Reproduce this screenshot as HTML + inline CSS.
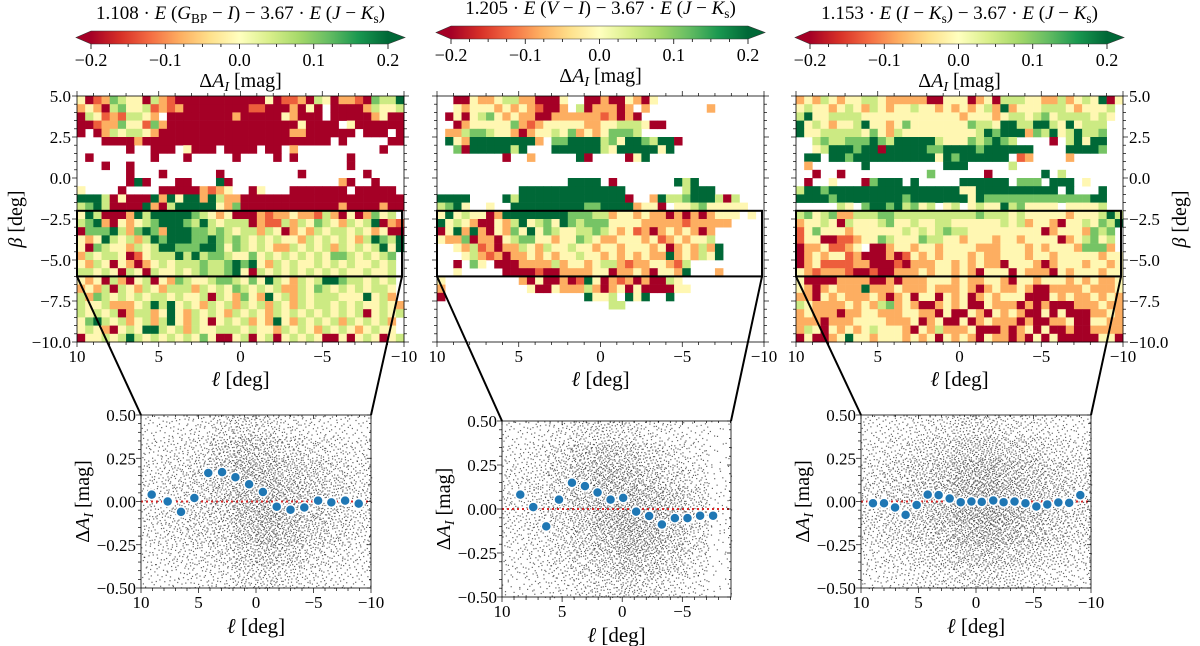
<!DOCTYPE html>
<html><head><meta charset="utf-8">
<style>
html,body{margin:0;padding:0;background:#fff;}
svg{display:block;}
svg text{font-family:"Liberation Serif","DejaVu Serif",serif;}
</style></head>
<body>
<svg id="fig" width="1200" height="646" viewBox="0 0 1200 646" xmlns="http://www.w3.org/2000/svg">
<defs>
<linearGradient id="rdylgn" x1="0" x2="1" y1="0" y2="0">
<stop offset="0" stop-color="#a50026"/><stop offset="0.1" stop-color="#d73027"/><stop offset="0.2" stop-color="#f46d43"/><stop offset="0.3" stop-color="#fdae61"/><stop offset="0.4" stop-color="#fee08b"/><stop offset="0.5" stop-color="#ffffbf"/><stop offset="0.6" stop-color="#d9ef8b"/><stop offset="0.7" stop-color="#a6d96a"/><stop offset="0.8" stop-color="#66bd63"/><stop offset="0.9" stop-color="#1a9850"/><stop offset="1" stop-color="#006837"/>
</linearGradient>
</defs>
</svg>
<script>
// ---------- data ----------
const codeLevels = {R:-0.2, r:-0.13, o:-0.08, y:-0.01, l:0.05, g:0.11, G:0.2};
const cbTicks = [-0.2, -0.1, 0.0, 0.1, 0.2];
const hmLonTicks = [10, 5, 0, -5, -10];
const hmLatTicks = [5, 2.5, 0, -2.5, -5, -7.5, -10];
const scYTicks = [0.5, 0.25, 0, -0.25, -0.5];
const scXTicks = [10, 5, 0, -5, -10];

const hm1Rows = [
"yRroglyyRlorRRRRRRRRRRRyRrroRlyRoorRgllGy",
"oyoRlgyylroroRRRRRRRRrrRRRoRyR.RRRRolyyl",
"Rlyrorllyo.RRRRRRRRoRRRRRyoRRR.RRRRRoyRR",
"RRroogyyrgoRRRRRRRRRRRRRRRRyRRRR.yRRRRRRR",
"R.RolyllyoRRRRRRRRRRRRRRRRooRRRRRR.RRR.RR",
"...RRRRoRRRRRRRRRRRRRRRRRRRRRRR.R.....RRR",
"......R..RRR.yRRR.RRRR.RR.o..........R...",
".R.......R...R.....R....R.R......R.......",
"...R..R..........................R.......",
"......R...R......R.........R.......R.....",
"......RGR...RR...GR.............oR..R....",
"y....R....RRRRRoroy..Ry...RRRRRRR.RRRRR",
"GGGlRyRRRGoGyGGoGlooRRRRRRRRRRRRRRRRRRRR",
"lgGlRRRRGoRlGGGGGyogRRRRRRRRRRRRoRRRRoRR",
"yGlRRRoGlGGGGGglyoyRRRorooyoorloRyRogyl",
"lgGoRyoylgGGGglGlylllRorrlolyglyolylGRor",
"RgggGlogGgoGGGgglglyllolyRoyolyllylyoyRR",
"yoyGlylolGgGGGggGglglylylyyolylylyolGglG",
"yRglyyolylGGgggGGgyglylyoolylylolylylGyG",
"olyllyRrylllGlGlgglyygylylylylygglylylg",
"yolyRyoRoylylllgllgGgGyolylyylylylyylyl",
"llylyRlyRlyylylgllgGyRlylylylylylyylyyl",
"yoyRloRylRyoglyylgglygyGlyolylGGgllylyl",
"oyolRlyolyolllolylyglylyloolyglylylylly",
"loglylylyllylyylRlyogyoGylolylllyyyGylo",
"lyyloooylGlGylyolylolylolyolyllylylyylyo",
"lylylRolloyGyolylyolylyolylylylylylRylyl",
"ygGlyloylolGyolyRylyloyoGyolylylolylylo",
"ylyoRylyGGlylolyylllylyyolylyolylyoylyy",
"RyylylGlylylylygyRRylRylRylylyRRyRylyRyl"];

const hm2Rows = [
"..RRyooyllooRRRy..RRoRRyoRy.............",
"..yoyyyoyoyorRRo.lRoooRo.o.......o......",
".RyRylgyoyooRRooooooroRoR...............",
"..RoyyyyygoroyyyyyooyylllyRR............",
".oolgglyyoRoyylygoyoygggl...............",
".GyoGGGGGGGGo.ggGGGGlgyGGglGGR..........",
"..gRGGGGGlG...GGGGGGlyGGGGGyG...........",
"........R..o.....GR....RyG..............",
"........................................",
"........................................",
"................GGGG.R.......GlG........",
"..........GGGGGGGGGGGGG.......lGGG......",
"GGGG....GlGGGGGGGGGGGGGR..oGllgGGGlRl...",
"lgGy..y..GGGGGGGGGggGGGGoyyR.yylgyyyyy..",
"yGylyyRoGGGGGGGGggglloyyoyooRoRoRoyyy.y.",
"GylyoRRyolGylgyGglgggyyyyooooorooooo....",
"RyGoGoRyogyGyglyyllglyoyroRoyoyoRo......",
"yoogRooRylggyyoyyglyooyyyoyroyoyyl......",
"..yolroRoolyolyylyyoyyoyyyoyRoyoloG.....",
"...yloroRooyoyoyylyyoyoyoyooGoyolyG.....",
"..R.gy.RRRooooloyyoyllorooyyorl.........",
"..y.....RRRRrRRooooyyRooyoRyyoG...o.....",
"y.........oRyRRoRrGyRoroRoRRly..........",
"o..........yRRyoooloRoyRyRRRRyy.........",
"R.................Gyyl.GyG..G...........",
".....................ll.................",
"........................................",
"........................................",
"........................................",
"........................................"];

const hm3Rows = [
"oyolyoyyllyoooooRRyyyRoyRlllyyooloylyGRy",
"ylyyoylyolyoyylyyoyoyoyloGoyyylllyoyyyl",
"lGyyllllyyyyyyyyyyyyoyyyoyllylgyllllyly",
"GylyoyylGyyoygyyyyyyygllyGGllGGlyGylll",
"GyylllllygyolyyyyyyyyylGgGGGoglGylGllg",
"..lgllgggGglGGGGGlyyyglgGgl....R.lGyGG",
"..ylGGGgGGRGGGGGggGGGGgGGGGGG....GGGGg",
".GG.GGgGGGGGGGGGGyGgGGGGGG.ro....o....",
".o......G.........GGG.....l...........",
"..R..R..........g......R......G.l......",
".R..y...RgGGG.G.....GGGGGG.ggg.GGG.y...",
"lGGgGGGGGGGGGGGGGGGGyyGGGGGGGGGG.G...G",
"GGGGgGGGGGGGGgGGGGGGGyGgggggggggggggGG",
".....ly.gGGgGlgyl.yl.ylyyGlgyyyy.yyyyl",
"lgylgoolllggllllllllllglllylyyyyyoyyylGl",
"oyylyRlyyylgyylyyllyyyyyylyloyyoRyylyglG",
"rygyyyoyyyyyylylylgllyyyyyyyyyRoyyyoglg",
"ryyRRrroyyglyyygllyyoyyyoyyoyyyyRoylgyl",
"Rooyrroy.RRoyyoyyoyyyyoooyyyoyoyyyogggo",
"RoyoyyroRRRoRryoyoyyyoyooyyyoyyoyyyyyoyy",
"RoyrrrrooRRRrRoooyyoyoyooRyyyoRoyyyoyyoy",
"yorooorRRrRRoooyoyyoyoRyyyRyoooRyoyyyoyy",
"yRRRRooooRRoRoooyyyoyooyyoRyyoyyyoyoyooy",
"yoRoyoooGoooyoooyoooyoRoyooyoRRooooyoooy",
"ooRyoyoooyoRoyRyyRyoyRoyoyyyRRRyoyooyoyo",
"lyooooyoyolgoyoRRoyoyRRyoooRoRoRRRoooyoo",
"oyoooRooyyoooyyooRyRRyoRyoyoRRyRyRRRooyo",
"oooRoooyyyyoooyRoyRRyRoyoooRoRRooyRRyyoo",
"olyRyoyoylyyyoRyoloooyRRRoRoyRyRRoRRoooo",
"RyRRoyGyyoyyyoyoyRyoyoRyooRoRyRyRRRRRyyR"];

// binned medians (blue points)
const sc1Lon = [9.07, 7.68, 6.52, 5.36, 4.15, 2.95, 1.79, 0.6, -0.6, -1.8, -3.0, -4.2, -5.4, -6.55, -7.75, -8.93];
const sc1Val = [0.04, 0.0, -0.06, 0.02, 0.165, 0.17, 0.14, 0.10, 0.055, -0.03, -0.048, -0.035, 0.005, -0.005, 0.005, -0.012];
const sc2Lon = [8.48, 7.4, 6.32, 5.26, 4.18, 3.1, 2.05, 0.97, -0.08, -1.16, -2.24, -3.3, -4.38, -5.43, -6.48, -7.56];
const sc2Val = [0.082, 0.011, -0.099, 0.053, 0.149, 0.13, 0.094, 0.053, 0.063, -0.015, -0.04, -0.088, -0.052, -0.052, -0.038, -0.038];
const sc3Lon = [8.96, 8.0, 7.04, 6.12, 5.16, 4.2, 3.25, 2.29, 1.33, 0.4, -0.5, -1.5, -2.4, -3.35, -4.3, -5.25, -6.2, -7.16, -8.1, -9.07];
const sc3Val = [-0.01, -0.01, -0.035, -0.077, -0.02, 0.04, 0.037, 0.017, -0.004, 0.0, -0.002, 0.006, -0.004, 0.0, -0.01, -0.029, -0.017, -0.006, -0.008, 0.037];

// star density per cell (rows: dA from +0.5 down to -0.5; cols: l from 10 to -10)
const dens1 = [
[20,24,30,50,60,50,36,28,24,20],
[28,36,44,70,90,80,60,50,40,30],
[36,44,60,80,110,100,80,70,56,40],
[40,50,60,80,100,110,90,80,60,44],
[40,50,60,70,100,120,100,80,60,44],
[36,44,56,60,90,110,90,70,56,40],
[28,36,40,50,70,80,70,50,40,30],
[20,24,30,36,50,56,44,36,28,20]];
const dens2 = [
[20,24,36,50,56,50,36,28,20,8],
[28,36,56,80,90,80,60,44,28,10],
[36,44,64,90,110,100,80,60,40,12],
[40,50,64,90,110,120,100,84,56,16],
[36,44,60,80,110,130,116,90,60,16],
[28,36,50,70,90,116,104,80,50,12],
[24,30,44,56,70,90,80,60,36,10],
[16,20,30,40,50,60,50,36,24,8]];
const dens3 = [
[24,30,36,44,56,56,44,36,30,24],
[32,40,50,64,80,84,70,60,44,36],
[44,56,70,84,110,116,96,80,64,50],
[50,60,76,90,120,130,110,90,70,56],
[50,60,76,96,124,136,116,90,70,56],
[44,56,68,80,104,116,100,80,64,50],
[32,40,52,64,76,84,70,60,48,36],
[24,28,36,44,52,56,48,40,32,24]];

// ---------- geometry ----------
const panels = [
 {id:1, rows:hm1Rows, hx:77, hw:327, hy:96, hh:246, cbY:31, title:"t1",
  sx:141, sw:230, sy:415, sh:173, sLonMax:10, sLonMin:-10, lon:sc1Lon, val:sc1Val, dens:dens1, latLabels:"left"},
 {id:2, rows:hm2Rows, hx:437, hw:327, hy:96, hh:246, cbY:26, title:"t2",
  sx:502, sw:229, sy:421, sh:176, sLonMax:10, sLonMin:-9.05, lon:sc2Lon, val:sc2Val, dens:dens2, latLabels:"none"},
 {id:3, rows:hm3Rows, hx:796, hw:327, hy:96, hh:246, cbY:31, title:"t3",
  sx:861, sw:230, sy:415, sh:173, sLonMax:10, sLonMin:-10, lon:sc3Lon, val:sc3Val, dens:dens3, latLabels:"right"}
];

const NS = "http://www.w3.org/2000/svg";
const svg = document.getElementById("fig");
const SERIF = '"Liberation Serif", "DejaVu Serif", serif';
function mk(tag, attrs, parent){
  const e = document.createElementNS(NS, tag);
  for (const k in attrs) e.setAttribute(k, attrs[k]);
  if (tag === "text") e.setAttribute("font-family", SERIF);
  (parent || svg).appendChild(e);
  return e;
}
const stops = ["#a50026","#d73027","#f46d43","#fdae61","#fee08b","#ffffbf","#d9ef8b","#a6d96a","#66bd63","#1a9850","#006837"];
function hex2rgb(h){return [parseInt(h.substr(1,2),16),parseInt(h.substr(3,2),16),parseInt(h.substr(5,2),16)];}
function cmap(v){
  let t = (v + 0.2) / 0.4; t = Math.max(0, Math.min(1, t));
  const p = t * 10, i = Math.min(9, Math.floor(p)), f = p - i;
  const a = hex2rgb(stops[i]), b = hex2rgb(stops[i+1]);
  return "rgb(" + a.map((c,k)=>Math.round(c + (b[k]-c)*f)).join(",") + ")";
}
function halton(i, b){ let f = 1, r = 0; while (i > 0){ f /= b; r += f * (i % b); i = Math.floor(i / b);} return r; }
function fmt(v, d){ const s = Math.abs(v).toFixed(d); return (v < 0 ? "\u2212" : "") + s; }

const titles = {
 t1: [["1.108 · ",""],["E","i"],[" (",""],["G","i"],["BP","sub"],[" − ",""],["I","i"],[") − 3.67 · ",""],["E","i"],[" (",""],["J","i"],[" − ",""],["K","i"],["s","sub"],[")",""]],
 t2: [["1.205 · ",""],["E","i"],[" (",""],["V","i"],[" − ",""],["I","i"],[") − 3.67 · ",""],["E","i"],[" (",""],["J","i"],[" − ",""],["K","i"],["s","sub"],[")",""]],
 t3: [["1.153 · ",""],["E","i"],[" (",""],["I","i"],[" − ",""],["K","i"],["s","sub"],[") − 3.67 · ",""],["E","i"],[" (",""],["J","i"],[" − ",""],["K","i"],["s","sub"],[")",""]]
};
function richText(parts, x, y, size, parent){
  const t = mk("text", {x:x, y:y, "font-size":size, "text-anchor":"middle", fill:"#000"}, parent);
  parts.forEach(p=>{
    const s = document.createElementNS(NS, "tspan");
    s.textContent = p[0];
    if (p[1] === "i") s.setAttribute("font-style", "italic");
    if (p[1] === "sub"){ s.setAttribute("font-size", size*0.7); s.setAttribute("dy", "4"); }
    t.appendChild(s);
    if (p[1] === "sub"){ const back = document.createElementNS(NS,"tspan"); back.setAttribute("dy","-4"); back.textContent = "\u200b"; t.appendChild(back); }
  });
  return t;
}
function deltaLabel(x, y, size, rot, parent){
  const g = mk("g", {transform: "translate(" + x + "," + y + ")" + (rot ? " rotate(-90)" : "")}, parent);
  const t = mk("text", {x:0, y:0, "font-size":size, "text-anchor":"middle"}, g);
  const a0 = document.createElementNS(NS,"tspan"); a0.textContent = "Δ"; t.appendChild(a0);
  const a = document.createElementNS(NS,"tspan"); a.textContent = "A"; a.setAttribute("font-style","italic"); t.appendChild(a);
  const b = document.createElementNS(NS,"tspan"); b.textContent = "I"; b.setAttribute("font-style","italic"); b.setAttribute("font-size", size*0.7); b.setAttribute("dy","4"); t.appendChild(b);
  const c = document.createElementNS(NS,"tspan"); c.textContent = " [mag]"; c.setAttribute("dy","-4"); t.appendChild(c);
  return g;
}
function ellLabel(x, y, size, rot, parent){
  const g = mk("g", {transform: "translate(" + x + "," + y + ")" + (rot ? " rotate(-90)" : "")}, parent);
  const t = mk("text", {x:0, y:0, "font-size":size, "text-anchor":"middle"}, g);
  const a = document.createElementNS(NS,"tspan"); a.textContent = "ℓ"; a.setAttribute("font-style","italic"); t.appendChild(a);
  const b = document.createElementNS(NS,"tspan"); b.textContent = " [deg]"; t.appendChild(b);
  return g;
}

panels.forEach(P=>{
  const grp = mk("g", {});
  
  

  // ---- title & colorbar ----
  const cx = P.hx + P.hw/2;
  const tt = richText(titles[P.title], cx, P.cbY - 12, 19, grp);
  
  
  const cb0 = P.hx + 14, cb1 = P.hx + P.hw - 16, cbh = 13;
  const cbX = v => cb0 + (v + 0.2) / 0.4 * (cb1 - cb0);
  const cbG = mk("g", {}, grp);
  
  
  mk("polygon", {points: (P.hx-1)+","+(P.cbY+cbh/2)+" "+cb0+","+P.cbY+" "+cb0+","+(P.cbY+cbh), fill:"#a50026"}, cbG);
  mk("polygon", {points: (P.hx+P.hw+1)+","+(P.cbY+cbh/2)+" "+cb1+","+P.cbY+" "+cb1+","+(P.cbY+cbh), fill:"#006837"}, cbG);
  mk("rect", {x:cb0, y:P.cbY, width:cb1-cb0, height:cbh, fill:"url(#rdylgn)"}, cbG);
  mk("polygon", {points: (P.hx-1)+","+(P.cbY+cbh/2)+" "+cb0+","+P.cbY+" "+cb1+","+P.cbY+" "+(P.hx+P.hw+1)+","+(P.cbY+cbh/2)+" "+cb1+","+(P.cbY+cbh)+" "+cb0+","+(P.cbY+cbh), fill:"none", stroke:"#333", "stroke-width":0.6}, cbG);
  for (let v = -0.2; v <= 0.2001; v += 0.025){
    const major = Math.abs(Math.round(v*10) - v*10) < 1e-6;
    mk("line", {x1:cbX(v), x2:cbX(v), y1:P.cbY+cbh, y2:P.cbY+cbh+(major?5:3), stroke:"#000", "stroke-width":0.8}, cbG);
  }
  cbTicks.forEach(v=>{
    const t = mk("text", {x:cbX(v), y:P.cbY+cbh+22, "font-size":18, "text-anchor":"middle"}, cbG);
    t.textContent = fmt(v, 1);
    
    
  });
  const cbl = deltaLabel(cx, P.cbY + 56, 20, false, grp);
  
  

  // ---- heatmap ----
  const hX = l => P.hx + (10 - l) / 20 * P.hw;
  const hY = b => P.hy + (5 - b) / 15 * P.hh;
  const hm = mk("g", {}, grp);
  
  
  P.rows.forEach((row, i)=>{
    for (let j = 0; j < 40 && j < row.length; j++){
      const c = row[j];
      if (!(c in codeLevels)) continue;
      const l0 = 10 - 0.5*j, b0 = 5 - 0.5*i;
      const x0 = hX(l0), x1 = hX(l0 - 0.5), y0 = hY(b0), y1 = hY(b0 - 0.5);
      const cell = mk("rect", {x:x0, y:y0, width:x1-x0+0.3, height:y1-y0+0.3, fill:cmap(codeLevels[c])}, hm);
      
      
    }
  });
  const hf = mk("rect", {x:P.hx, y:P.hy, width:P.hw, height:P.hh, fill:"none", stroke:"#000", "stroke-width":0.8}, grp);
  
  
  for (let l = -10; l <= 10; l++){
    const major = l % 5 === 0;
    mk("line", {x1:hX(l), x2:hX(l), y1:P.hy+P.hh, y2:P.hy+P.hh+(major?5:3), stroke:"#000", "stroke-width":0.7}, grp);
    mk("line", {x1:hX(l), x2:hX(l), y1:P.hy, y2:P.hy-(major?5:3), stroke:"#000", "stroke-width":0.7}, grp);
  }
  for (let b = -10; b <= 5; b += 0.5){
    const major = Math.abs(b/2.5 - Math.round(b/2.5)) < 1e-6;
    const len = major ? 5 : 3;
    mk("line", {x1:P.hx, x2:P.hx-len, y1:hY(b), y2:hY(b), stroke:"#000", "stroke-width":0.7}, grp);
    mk("line", {x1:P.hx+P.hw, x2:P.hx+P.hw+len, y1:hY(b), y2:hY(b), stroke:"#000", "stroke-width":0.7}, grp);
  }
  hmLonTicks.forEach(l=>{
    const t = mk("text", {x:hX(l), y:P.hy+P.hh+20, "font-size":17, "text-anchor":"middle"}, grp);
    t.textContent = fmt(l, 0);
    
    
  });
  if (P.latLabels !== "none"){
    hmLatTicks.forEach(b=>{
      const left = P.latLabels === "left";
      const t = mk("text", {x: left ? P.hx-6 : P.hx+P.hw+6, y:hY(b)+6, "font-size":17, "text-anchor": left ? "end" : "start"}, grp);
      t.textContent = fmt(b, 1);
      
      
    });
    const bx = P.latLabels === "left" ? 22 : 1186;
    const bl = mk("g", {transform:"translate(" + bx + "," + (P.hy + P.hh/2) + ") rotate(-90)"}, grp);
    const bt = mk("text", {x:0, y:0, "font-size":20, "text-anchor":"middle"}, bl);
    const b1 = document.createElementNS(NS,"tspan"); b1.textContent = "β"; b1.setAttribute("font-style","italic"); bt.appendChild(b1);
    const b2 = document.createElementNS(NS,"tspan"); b2.textContent = " [deg]"; bt.appendChild(b2);
    
    
  }
  const hl = ellLabel(cx, P.hy + P.hh + 44, 21, false, grp);
  
  

  const box = mk("rect", {x:hX(10), y:hY(-2), width:hX(-10)-hX(10)-2, height:hY(-6)-hY(-2), fill:"none", stroke:"#000", "stroke-width":2}, grp);
  
  
  const c1 = mk("line", {x1:hX(10), y1:hY(-6), x2:P.sx, y2:P.sy, stroke:"#000", "stroke-width":2}, grp);
  
  
  const c2 = mk("line", {x1:hX(-10)-2, y1:hY(-6), x2:P.sx+P.sw, y2:P.sy, stroke:"#000", "stroke-width":2}, grp);
  
  

  // ---- scatter ----
  const sX = l => P.sx + (P.sLonMax - l) / (P.sLonMax - P.sLonMin) * P.sw;
  const sY = v => P.sy + (0.5 - v) * P.sh;
  const sg = mk("g", {}, grp);
  
  
  mk("rect", {x:P.sx, y:P.sy, width:P.sw, height:P.sh, fill:"#fff"}, sg);
  const stars = mk("g", {fill:"#000", "fill-opacity":0.6}, sg);
  
  
  let idx = 1;
  const nr = P.dens.length, nc = P.dens[0].length;
  const cw = P.sw / nc, ch = P.sh / nr;
  P.dens.forEach((row, r)=>{
    row.forEach((n, c)=>{
      for (let k = 0; k < n; k++){
        const px = P.sx + c*cw + halton(idx, 2) * cw;
        const py = P.sy + r*ch + halton(idx, 3) * ch;
        idx++;
        mk("rect", {x:px.toFixed(1), y:py.toFixed(1), width:1.2, height:1.2}, stars);
      }
    });
  });
  const zl = mk("line", {x1:P.sx, x2:P.sx+P.sw, y1:sY(0), y2:sY(0), stroke:"#d62728", "stroke-width":2, "stroke-dasharray":"2,3"}, sg);
  
  
  P.lon.forEach((l, i)=>{
    const pt = mk("circle", {cx:sX(l), cy:sY(P.val[i]), r:5, fill:"#1f77b4", stroke:"#fff", "stroke-width":1.5}, sg);
    
    
  });
  mk("rect", {x:P.sx, y:P.sy, width:P.sw, height:P.sh, fill:"none", stroke:"#000", "stroke-width":0.8}, sg);
  for (let l = Math.ceil(P.sLonMin); l <= 10; l++){
    const major = l % 5 === 0;
    mk("line", {x1:sX(l), x2:sX(l), y1:P.sy+P.sh, y2:P.sy+P.sh+(major?5:3), stroke:"#000", "stroke-width":0.7}, sg);
    mk("line", {x1:sX(l), x2:sX(l), y1:P.sy, y2:P.sy+(major?4:2), stroke:"#000", "stroke-width":0.7}, sg);
  }
  for (let v = -0.5; v <= 0.5001; v += 0.05){
    const major = Math.abs(v/0.25 - Math.round(v/0.25)) < 1e-6;
    mk("line", {x1:P.sx, x2:P.sx-(major?5:3), y1:sY(v), y2:sY(v), stroke:"#000", "stroke-width":0.7}, sg);
    mk("line", {x1:P.sx+P.sw, x2:P.sx+P.sw-(major?4:2), y1:sY(v), y2:sY(v), stroke:"#000", "stroke-width":0.7}, sg);
  }
  scYTicks.forEach(v=>{
    const t = mk("text", {x:P.sx-5, y:sY(v)+6, "font-size":17, "text-anchor":"end"}, sg);
    t.textContent = fmt(v, 2);
    
    
  });
  scXTicks.forEach(l=>{
    if (l < P.sLonMin - 0.01) return;
    const t = mk("text", {x:sX(l), y:P.sy+P.sh+20, "font-size":17, "text-anchor":"middle"}, sg);
    t.textContent = fmt(l, 0);
    
    
  });
  const sxl = ellLabel(P.sx + P.sw/2, P.sy + P.sh + 45, 21, false, sg);
  
  
  const syl = deltaLabel(P.sx - 52, P.sy + P.sh/2, 20, true, sg);
  
  
});
</script>
</body></html>
